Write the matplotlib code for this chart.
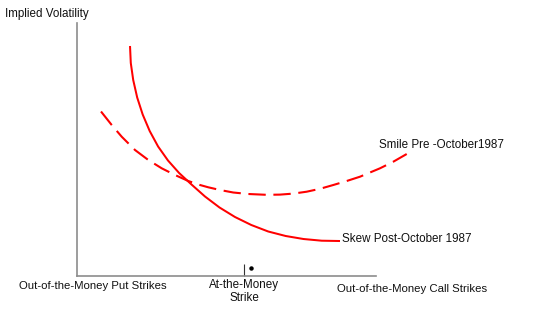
import matplotlib
matplotlib.use("Agg")
import matplotlib.pyplot as plt

plt.rcParams['font.family'] = ['Liberation Sans', 'DejaVu Sans']
plt.rcParams['lines.scale_dashes'] = False

# Data (arbitrary units: strike position 0-100, implied vol 0-100)
skew_x = [17.73, 17.99, 18.80, 20.13, 21.97, 24.31, 27.12, 30.43, 34.15, 38.29, 42.81,
          47.66, 52.84, 58.29, 63.95, 69.80, 75.75, 81.84, 87.96]
skew_y = [90.91, 84.19, 77.47, 70.55, 63.83, 57.31, 51.19, 45.65, 40.71, 36.17, 31.42,
          27.08, 23.32, 20.16, 17.59, 15.81, 14.62, 13.95, 13.83]

smile_x = [8.03, 11.61, 14.95, 19.40, 23.85, 28.33, 32.78, 37.22, 41.14, 43.91, 47.83, 52.27,
           57.29, 63.44, 67.89, 72.34, 76.82, 81.27, 85.72, 90.20, 94.65, 101.34, 105.79, 110.27]
smile_y = [65.02, 59.68, 55.06, 49.80, 45.85, 42.57, 39.92, 37.55, 35.97, 35.06, 33.99, 33.00,
           32.41, 32.09, 32.17, 32.57, 33.32, 34.47, 35.97, 37.55, 39.25, 42.57, 45.18, 48.22]

atm_strike = 55.85
atm_label = "At-the-Money\nStrike"
dot_x = [58.2]
dot_y = [3.2]

y_label = "Implied Volatility"
put_label = "Out-of-the-Money Put Strikes"
call_label = "Out-of-the-Money Call Strikes"
smile_label = "Smile Pre -October1987"
skew_label = "Skew Post-October 1987"

W, H = 544, 309
fig = plt.figure(figsize=(W / 100, H / 100), dpi=100)
def fx(px): return px / W
def fy(py): return 1 - py / H

L, R, T, B = 77, 376, 23, 276
ax = fig.add_axes([fx(L), fy(B), (R - L) / W, (B - T) / H])
ax.set_xlim(0, 100)
ax.set_ylim(0, 100)
for s in ['top', 'right']:
    ax.spines[s].set_visible(False)
for s in ['left', 'bottom']:
    ax.spines[s].set_color('#8c8c8c')
    ax.spines[s].set_linewidth(1.2)

fs = 8.4
col = '#111111'
ax.set_yticks([])
ax.set_xticks([atm_strike])
ax.set_xticklabels([atm_label], fontsize=fs, color=col, linespacing=1.05)
ax.tick_params(axis='x', direction='in', length=8.5, width=0.8, color='#333333', pad=2.2)

red = '#ff0000'
ax.plot(skew_x, skew_y, color=red, lw=1.45, clip_on=False, solid_capstyle='butt',
        solid_joinstyle='round')
ax.plot(smile_x, smile_y, color=red, lw=1.5, clip_on=False,
        linestyle=(0, (12.5, 5.5)), dash_capstyle='butt', dash_joinstyle='round')
ax.plot(dot_x, dot_y, 'o', color='black', ms=2.2, clip_on=False)

fig.text(fx(5), fy(14), y_label, fontsize=fs, color=col, ha='left', va='center')
fig.text(fx(93), fy(286), put_label, fontsize=8.2, color=col, ha='center', va='center')
fig.text(fx(412.5), fy(288.5), call_label, fontsize=8.2, color=col, ha='center', va='center')
fig.text(fx(379), fy(145), smile_label, fontsize=fs, color=col, ha='left', va='center')
fig.text(fx(342), fy(239.5), skew_label, fontsize=fs, color=col, ha='left', va='center')

fig.savefig('out.png', dpi=100)
